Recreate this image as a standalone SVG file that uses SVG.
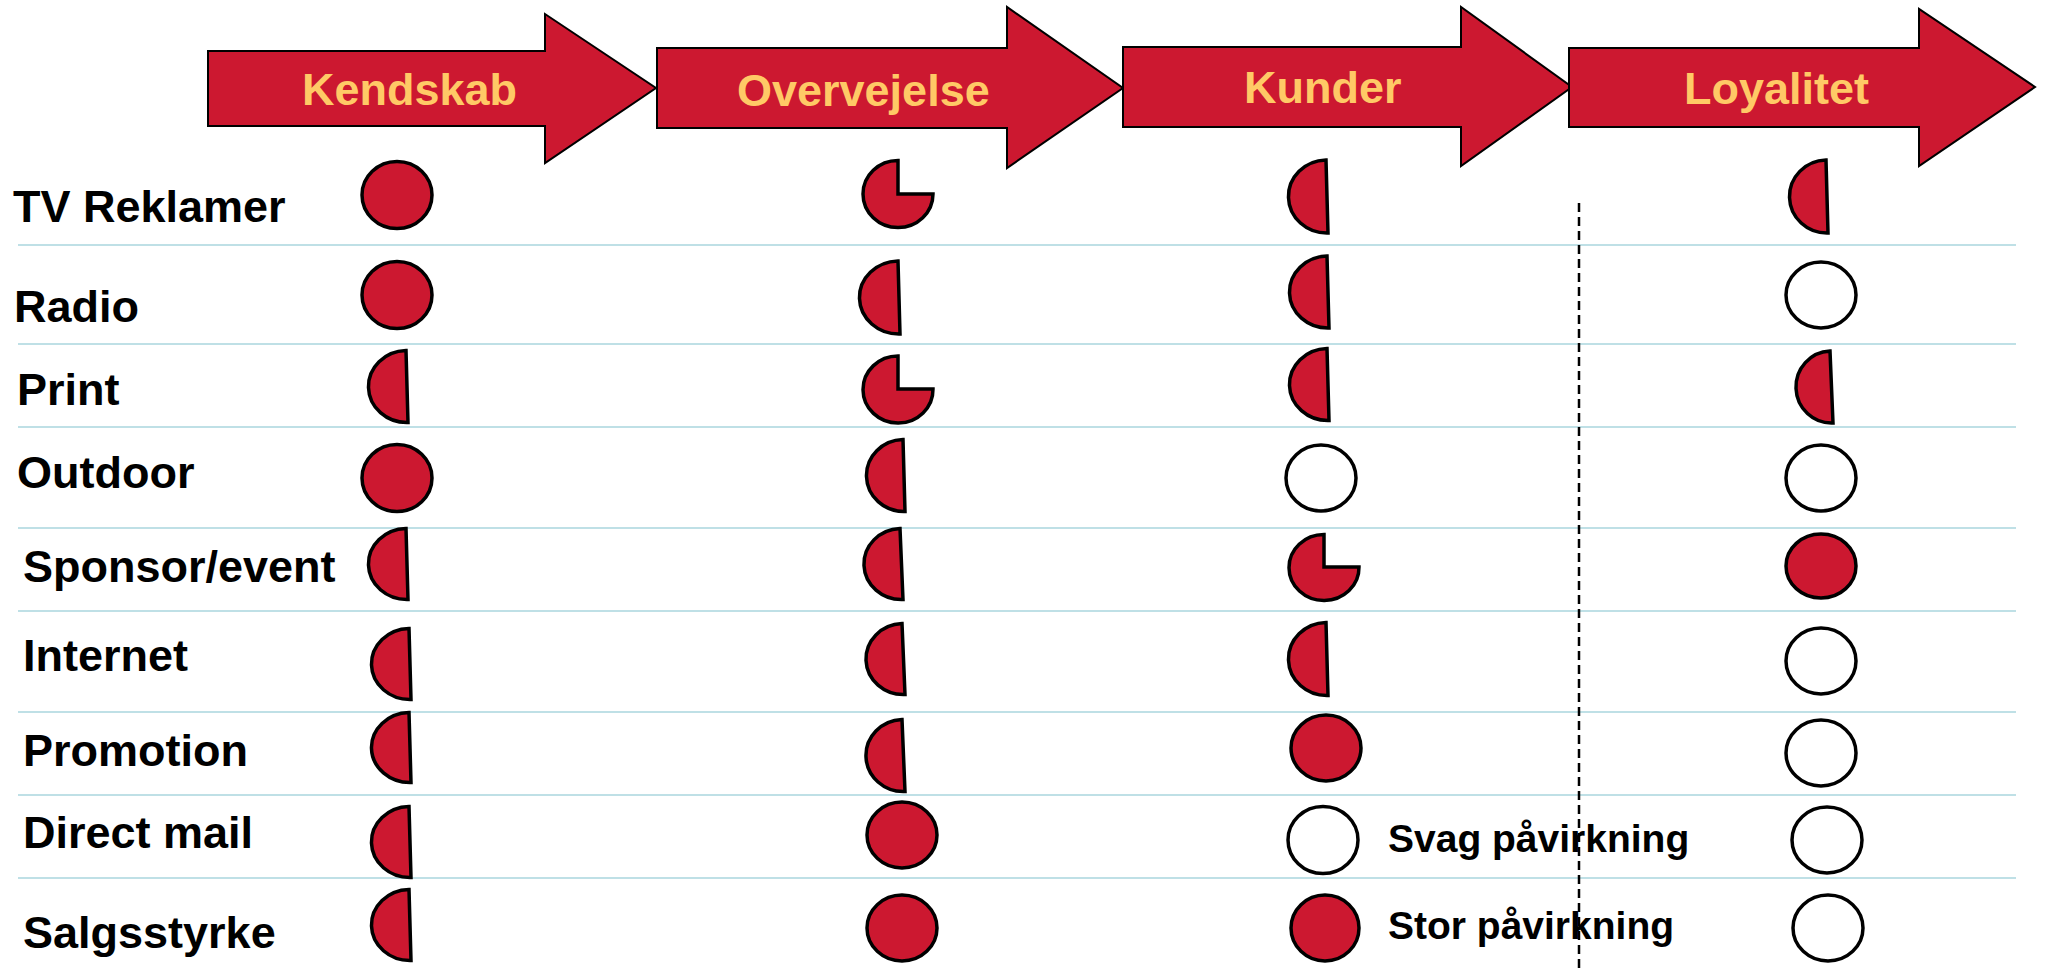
<svg xmlns="http://www.w3.org/2000/svg" width="2046" height="972" viewBox="0 0 2046 972">
  <style>
    .stage { fill: #CC1830; stroke: #000; stroke-width: 2; stroke-linejoin: miter; }
    .hdr { font-family: "Liberation Sans", Arial, sans-serif; font-weight: bold; font-size: 45px; fill: #FFC966; }
    .lbl { font-family: "Liberation Sans", Arial, sans-serif; font-weight: bold; font-size: 45px; fill: #000; }
    .key { font-family: "Liberation Sans", Arial, sans-serif; font-weight: bold; font-size: 39px; fill: #000; }
    .rule { stroke: #BFE0E6; stroke-width: 2; fill: none; }
    .divider { stroke: #000; stroke-width: 2.5; stroke-dasharray: 9 5; fill: none; }
    .on { fill: #CC1830; stroke: #000; stroke-width: 3.5; stroke-linejoin: miter; }
    .off { fill: #fff; stroke: #000; stroke-width: 3.5; }
  </style>
  <rect width="2046" height="972" fill="#fff"/>

  <!-- row separators -->
  <g id="grid">
    <line class="rule" x1="18" y1="245" x2="2016" y2="245"/>
    <line class="rule" x1="18" y1="344" x2="2016" y2="344"/>
    <line class="rule" x1="18" y1="427" x2="2016" y2="427"/>
    <line class="rule" x1="18" y1="528" x2="2016" y2="528"/>
    <line class="rule" x1="18" y1="611" x2="2016" y2="611"/>
    <line class="rule" x1="18" y1="712" x2="2016" y2="712"/>
    <line class="rule" x1="18" y1="795" x2="2016" y2="795"/>
    <line class="rule" x1="18" y1="878" x2="2016" y2="878"/>
  </g>

  <!-- stage arrows -->
  <g id="stage-kendskab">
    <path class="stage" d="M208,51 H545 V14 L656,88 L545,163 V126 H208 Z"/>
    <text class="hdr" x="302" y="105">Kendskab</text>
  </g>
  <g id="stage-overvejelse">
    <path class="stage" d="M657,48 H1007 V7 L1123,88 L1007,168 V128 H657 Z"/>
    <text class="hdr" x="737" y="106">Overvejelse</text>
  </g>
  <g id="stage-kunder">
    <path class="stage" d="M1123,47 H1461 V7 L1572,87 L1461,166 V127 H1123 Z"/>
    <text class="hdr" x="1244" y="103">Kunder</text>
  </g>
  <g id="stage-loyalitet">
    <path class="stage" d="M1569,48 H1919 V9 L2035,87 L1919,166 V127 H1569 Z"/>
    <text class="hdr" x="1684" y="104">Loyalitet</text>
  </g>

  <!-- dashed divider -->
  <g id="connectors">
    <line class="divider" x1="1579" y1="203" x2="1579" y2="972"/>
  </g>

  <!-- media rows: full disc = strong, half = medium, three-quarter = fairly strong, empty = weak -->
  <g id="row-tv">
    <text class="lbl" x="13" y="222">TV Reklamer</text>
    <ellipse class="on" cx="397" cy="195" rx="35" ry="33.5"/>
    <path class="on" d="M898,194 V160.5 A35,33.5 0 1 0 933,194 Z"/>
    <path class="on" d="M1326,160 A38,36 0 0 0 1328,233 Z"/>
    <path class="on" d="M1826,160 A37,36 0 0 0 1828,233 Z"/>
  </g>
  <g id="row-radio">
    <text class="lbl" x="14" y="322">Radio</text>
    <ellipse class="on" cx="397" cy="295" rx="35" ry="33.5"/>
    <path class="on" d="M898,261 A39,36 0 0 0 900,334 Z"/>
    <path class="on" d="M1327,256 A38,35.5 0 0 0 1329,328 Z"/>
    <ellipse class="off" cx="1821" cy="295" rx="35" ry="33"/>
  </g>
  <g id="row-print">
    <text class="lbl" x="17" y="405">Print</text>
    <path class="on" d="M406,350.5 A38,35.5 0 0 0 408,422.5 Z"/>
    <path class="on" d="M898,389 V356 A35,33.5 0 1 0 933,389 Z"/>
    <path class="on" d="M1327,348.5 A38,35.5 0 0 0 1329,420.5 Z"/>
    <path class="on" d="M1830,351 A35,35.5 0 0 0 1833,423 Z"/>
  </g>
  <g id="row-outdoor">
    <text class="lbl" x="17" y="488">Outdoor</text>
    <ellipse class="on" cx="397" cy="478" rx="35" ry="33.5"/>
    <path class="on" d="M903,439.5 A37,35.5 0 0 0 905,511.5 Z"/>
    <ellipse class="off" cx="1321" cy="478" rx="35" ry="33"/>
    <ellipse class="off" cx="1821" cy="478" rx="35" ry="33"/>
  </g>
  <g id="row-sponsor">
    <text class="lbl" x="23" y="582">Sponsor/event</text>
    <path class="on" d="M406,528.5 A38,35 0 0 0 408,599.5 Z"/>
    <path class="on" d="M900,528.5 A37,35 0 0 0 903,599.5 Z"/>
    <path class="on" d="M1324,567 V534.5 A35,33 0 1 0 1359,567 Z"/>
    <ellipse class="on" cx="1821" cy="566" rx="35" ry="32"/>
  </g>
  <g id="row-internet">
    <text class="lbl" x="23" y="671">Internet</text>
    <path class="on" d="M409,628.5 A38,35 0 0 0 411,699.5 Z"/>
    <path class="on" d="M902,623.5 A37,35 0 0 0 905,694.5 Z"/>
    <path class="on" d="M1326,622.5 A38,36 0 0 0 1328,695.5 Z"/>
    <ellipse class="off" cx="1821" cy="661" rx="35" ry="33"/>
  </g>
  <g id="row-promotion">
    <text class="lbl" x="23" y="766">Promotion</text>
    <path class="on" d="M409,712.5 A38,34.5 0 0 0 411,782.5 Z"/>
    <path class="on" d="M902,719.5 A37,35.5 0 0 0 905,791.5 Z"/>
    <ellipse class="on" cx="1326" cy="748" rx="35" ry="33"/>
    <ellipse class="off" cx="1821" cy="753" rx="35" ry="33"/>
  </g>
  <g id="row-direct-mail">
    <text class="lbl" x="23" y="848">Direct mail</text>
    <path class="on" d="M409,806.5 A38,35 0 0 0 411,877.5 Z"/>
    <ellipse class="on" cx="902" cy="835" rx="35" ry="33"/>
    <ellipse class="off" cx="1323" cy="840" rx="35" ry="33.5"/>
    <ellipse class="off" cx="1827" cy="840" rx="35" ry="33"/>
  </g>
  <g id="row-salgsstyrke">
    <text class="lbl" x="23" y="948">Salgsstyrke</text>
    <path class="on" d="M409,889.5 A38,35 0 0 0 411,960.5 Z"/>
    <ellipse class="on" cx="902" cy="928" rx="35" ry="33"/>
    <ellipse class="on" cx="1325" cy="928" rx="34" ry="33"/>
    <ellipse class="off" cx="1828" cy="928" rx="35" ry="33"/>
  </g>

  <!-- key -->
  <g id="legend">
    <text class="key" x="1388" y="852">Svag påvirkning</text>
    <text class="key" x="1388" y="939">Stor påvirkning</text>
  </g>
</svg>
